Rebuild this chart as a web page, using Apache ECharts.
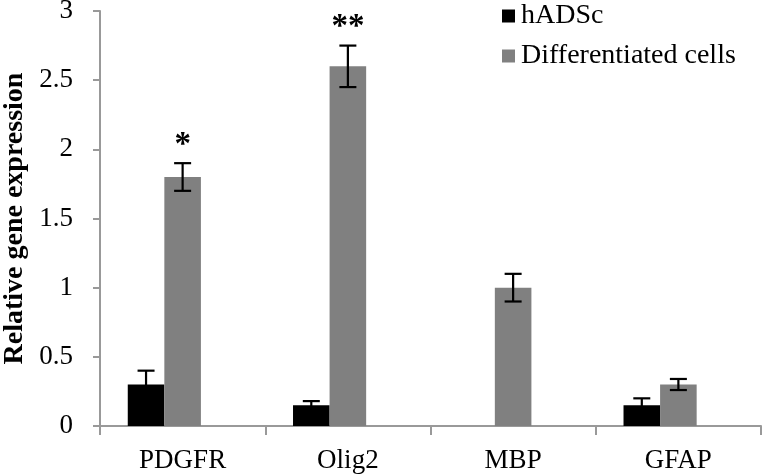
<!DOCTYPE html>
<html><head><meta charset="utf-8">
<script src="https://cdn.jsdelivr.net/npm/echarts@6/dist/echarts.min.js"></script>
<style>html,body{margin:0;padding:0;background:#fff}#c{width:762px;height:476px}</style>
</head><body><div id="c"></div>
<script>
var categories = ['PDGFR', 'Olig2', 'MBP', 'GFAP'];
var hadscValues = [0.30, 0.15, 0, 0.15];
var hadscErrors = [0.10, 0.03, 0, 0.05];
var diffValues = [1.80, 2.60, 1.00, 0.30];
var diffErrors = [0.10, 0.15, 0.10, 0.04];
var diffStars = ['*', '**', '', ''];
var emptyValues = [null, null, null, null];
var yTicks = [0, 0.5, 1, 1.5, 2, 2.5, 3];

var FONT = '"Liberation Serif","Times New Roman",serif';
var GAP = 0.336;
var NBARS = 3;

function errSeries(vals, errs, slot, stars) {
  return {
    type: 'custom',
    z: 5,
    data: vals.map(function (v, i) { return [i, v, errs[i]]; }),
    renderItem: function (params, api) {
      var i = api.value(0), v = api.value(1), e = api.value(2);
      var star = stars ? stars[i] : '';
      var band = api.size([1, 0])[0];
      var bw = band * (1 - GAP) / NBARS;
      var c = api.coord([i, v]);
      var x = c[0] + (slot - (NBARS - 1) / 2) * bw;
      var top = api.coord([i, v + e])[1];
      var bot = api.coord([i, v - e])[1];
      var children = [];
      if (e > 0) {
        var st = { stroke: '#000', lineWidth: 2.2 };
        children.push({ type: 'line', shape: { x1: x, y1: top, x2: x, y2: bot }, style: st });
        children.push({ type: 'line', shape: { x1: x - 8.5, y1: top, x2: x + 8.5, y2: top }, style: st });
        children.push({ type: 'line', shape: { x1: x - 8.5, y1: bot, x2: x + 8.5, y2: bot }, style: st });
      }
      if (star) {
        children.push({ type: 'text', style: { text: star, x: x, y: top - 18, align: 'center', verticalAlign: 'middle', font: 'bold 33px ' + FONT, fill: '#000' } });
      }
      return { type: 'group', children: children };
    }
  };
}

var barCommon = { type: 'bar', barGap: '0%', barCategoryGap: (GAP * 100) + '%' };

var chart = echarts.init(document.getElementById('c'), null, { renderer: 'canvas' });
chart.setOption({
  animation: false,
  backgroundColor: '#fff',
  grid: { left: 100, right: 1, top: 11, bottom: 50, containLabel: false, outerBoundsMode: 'none' },
  legend: {
    orient: 'vertical', left: 497, top: -3, itemWidth: 13, itemHeight: 13, itemGap: 12,
    icon: 'rect',
    textStyle: { fontFamily: FONT, fontSize: 28, color: '#000', padding: [0, 0, 0, 1] },
    data: ['hADSc', 'Differentiated cells']
  },
  xAxis: {
    type: 'category', data: categories,
    axisLine: { lineStyle: { color: '#999', width: 2 } },
    axisTick: { show: true, length: 9, lineStyle: { color: '#999', width: 2 } },
    axisLabel: { fontFamily: FONT, fontSize: 27, color: '#000', margin: 21 }
  },
  yAxis: {
    type: 'value', min: 0, max: 3, interval: 0.5,
    name: 'Relative gene expression', nameLocation: 'middle', nameGap: 68,
    nameTextStyle: { fontFamily: FONT, fontSize: 28, fontWeight: 'bold', color: '#000' },
    axisLine: { show: true, lineStyle: { color: '#999', width: 2 } },
    axisTick: { show: true, length: 7, lineStyle: { color: '#999', width: 2 } },
    splitLine: { show: false },
    axisLabel: {
      fontFamily: FONT, fontSize: 27, color: '#000', margin: 27,
      formatter: function (v) { return yTicks.indexOf(v) >= 0 ? String(v) : ''; }
    }
  },
  series: [
    Object.assign({ name: 'hADSc', data: hadscValues, itemStyle: { color: '#000' } }, barCommon),
    Object.assign({ name: 'Differentiated cells', data: diffValues, itemStyle: { color: '#808080' } }, barCommon),
    Object.assign({ name: 'placeholder', data: emptyValues, itemStyle: { color: 'transparent' } }, barCommon),
    errSeries(hadscValues, hadscErrors, 0, null),
    errSeries(diffValues, diffErrors, 1, diffStars)
  ]
});
</script></body></html>
